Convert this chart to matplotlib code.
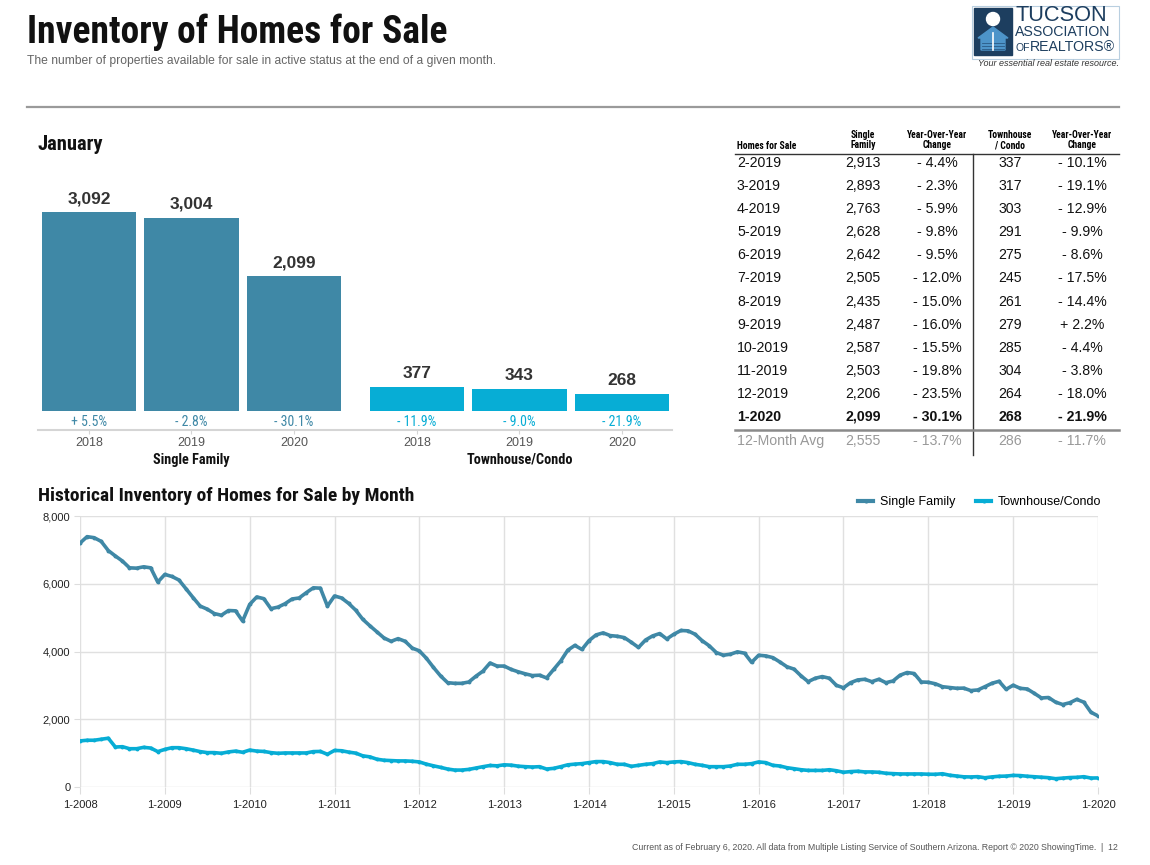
import matplotlib
matplotlib.use("Agg")
import matplotlib.pyplot as plt
from matplotlib import font_manager
from matplotlib.lines import Line2D
from matplotlib.patches import Rectangle, Circle, Polygon
from matplotlib.ticker import FuncFormatter


# ---- data ----
bar_groups = ["Single Family", "Townhouse/Condo"]
bar_years = ["2018", "2019", "2020"]
sf_january = [3092, 3004, 2099]
th_january = [377, 343, 268]
sf_january_change = ["+ 5.5%", "- 2.8%", "- 30.1%"]
th_january_change = ["- 11.9%", "- 9.0%", "- 21.9%"]

table_months = ["2-2019", "3-2019", "4-2019", "5-2019", "6-2019", "7-2019",
                "8-2019", "9-2019", "10-2019", "11-2019", "12-2019", "1-2020"]
table_sf = ["2,913", "2,893", "2,763", "2,628", "2,642", "2,505",
            "2,435", "2,487", "2,587", "2,503", "2,206", "2,099"]
table_sf_change = ["- 4.4%", "- 2.3%", "- 5.9%", "- 9.8%", "- 9.5%", "- 12.0%",
                   "- 15.0%", "- 16.0%", "- 15.5%", "- 19.8%", "- 23.5%", "- 30.1%"]
table_th = ["337", "317", "303", "291", "275", "245",
            "261", "279", "285", "304", "264", "268"]
table_th_change = ["- 10.1%", "- 19.1%", "- 12.9%", "- 9.9%", "- 8.6%", "- 17.5%",
                   "- 14.4%", "+ 2.2%", "- 4.4%", "- 3.8%", "- 18.0%", "- 21.9%"]
table_avg = ["12-Month Avg", "2,555", "- 13.7%", "286", "- 11.7%"]

# monthly inventory 1-2008 .. 1-2020
sf_monthly = [
    7200, 7390, 7360, 7250, 6980, 6820, 6670, 6470, 6460, 6500, 6470, 6050,  # 2008
    6275, 6215, 6110, 5850, 5590, 5340, 5250, 5120, 5070, 5210, 5200, 4900,  # 2009
    5390, 5610, 5560, 5265, 5310, 5410, 5550, 5580, 5735, 5880, 5870, 5340,  # 2010
    5640, 5580, 5420, 5220, 4950, 4760, 4580, 4400, 4300, 4380, 4300, 4100,  # 2011
    4020, 3800, 3530, 3280, 3080, 3060, 3060, 3100, 3270, 3420, 3660, 3570,  # 2012
    3570, 3470, 3400, 3340, 3290, 3300, 3220, 3470, 3720, 4040, 4180, 4060,  # 2013
    4320, 4490, 4550, 4470, 4450, 4410, 4270, 4120, 4340, 4460, 4530, 4370,  # 2014
    4510, 4620, 4610, 4510, 4320, 4170, 3970, 3890, 3920, 3990, 3950, 3680,  # 2015
    3890, 3870, 3820, 3690, 3550, 3480, 3280, 3110, 3210, 3260, 3210, 3000,  # 2016
    2930, 3080, 3160, 3180, 3110, 3180, 3080, 3130, 3300, 3380, 3350, 3100,  # 2017
    3092, 3047, 2961, 2936, 2914, 2919, 2847, 2865, 2961, 3062, 3121, 2884,  # 2018
    3004, 2913, 2893, 2763, 2628, 2642, 2505, 2435, 2487, 2587, 2503, 2206,  # 2019
    2099,                                                                    # 2020
]
th_monthly = [
    1360, 1380, 1380, 1410, 1440, 1180, 1190, 1130, 1130, 1170, 1150, 1045,  # 2008
    1110, 1160, 1160, 1130, 1090, 1045, 1015, 1015, 995, 1035, 1060, 1025,   # 2009
    1090, 1060, 1050, 1015, 995, 1005, 1005, 1005, 1005, 1045, 1050, 965,    # 2010
    1080, 1070, 1030, 1000, 920, 890, 820, 790, 780, 770, 770, 760,          # 2011
    740, 675, 625, 580, 530, 500, 500, 520, 560, 600, 635, 625,              # 2012
    655, 645, 615, 600, 590, 600, 530, 550, 600, 655, 675, 690,              # 2013
    720, 750, 750, 720, 670, 670, 610, 640, 670, 690, 740, 720,              # 2014
    740, 750, 720, 670, 640, 600, 600, 600, 620, 670, 670, 690,              # 2015
    740, 720, 640, 620, 570, 540, 510, 490, 490, 490, 510, 480,              # 2016
    435, 455, 465, 445, 445, 435, 405, 395, 385, 385, 385, 385,              # 2017
    377, 375, 392, 348, 323, 301, 297, 305, 273, 298, 316, 322,              # 2018
    343, 337, 317, 303, 291, 275, 245, 261, 279, 285, 304, 264,              # 2019
    268,                                                                     # 2020
]
history_ticks = ["1-2008", "1-2009", "1-2010", "1-2011", "1-2012", "1-2013", "1-2014",
                 "1-2015", "1-2016", "1-2017", "1-2018", "1-2019", "1-2020"]

# ---- style ----
SF_COLOR = "#3F88A6"
TH_COLOR = "#07ADD5"
NAVY = "#1D3E5F"
W, H = 1150, 865

names = {f.name for f in font_manager.fontManager.ttflist}
if "Roboto Condensed" in names:
    NARROW = dict(family="Roboto Condensed")
elif "Liberation Sans Narrow" in names:
    NARROW = dict(family="Liberation Sans Narrow")
else:
    NARROW = dict(family="DejaVu Sans", stretch="condensed")
plt.rcParams["font.family"] = ["Liberation Sans", "DejaVu Sans"]


def fx(x):
    return x / W


def fy(y):
    return 1 - y / H


fig = plt.figure(figsize=(W / 100, H / 100), dpi=100)

# ---- header ----
fig.text(fx(27), fy(32), "Inventory of Homes for Sale", fontsize=27, fontweight="bold",
         color="#111111", va="center", ha="left", **NARROW)
fig.text(fx(27), fy(61), "The number of properties available for sale in active status "
         "at the end of a given month.", fontsize=8.75, color="#666666", va="center")
fig.add_artist(Line2D([fx(27), fx(1119)], [fy(107), fy(107)], color="#9a9a9a", lw=1.6))

# logo (pixel coordinates inside its own axes)
ax_logo = fig.add_axes([fx(969), fy(70), 152 / W, 66 / H])
ax_logo.set_xlim(0, 152)
ax_logo.set_ylim(66, 0)
ax_logo.axis("off")
ax_logo.add_patch(Rectangle((2.5, 1.5), 147.5, 53, fill=False, ec="#b9cfe0", lw=0.8))
ax_logo.add_patch(Rectangle((5, 3.5), 38, 47, color=NAVY))
ax_logo.add_patch(Circle((24, 15), 6.5, color="white"))
ax_logo.add_patch(Polygon([(9, 34), (24, 23), (39, 34), (36, 34), (36, 46), (12, 46), (12, 34)],
                          color="#4D94C9"))
for yy in (39, 42, 45):
    ax_logo.plot([13, 35], [yy, yy], color="#2a5a85", lw=0.6)
ax_logo.plot([24, 24], [29, 46], color="white", lw=1.2)
ax_logo.text(46, 11.5, "TUCSON", fontsize=15.7, color=NAVY, va="center", ha="left")
ax_logo.text(46, 28, "ASSOCIATION", fontsize=10.2, color=NAVY, va="center", ha="left")
ax_logo.text(46, 44, "OF", fontsize=7.5, color=NAVY, va="center", ha="left")
ax_logo.text(61, 43, "REALTORS®", fontsize=10.2, color=NAVY, va="center", ha="left")
ax_logo.text(150, 60, "Your essential real estate resource.", fontsize=6.5, style="italic",
             color="#333333", va="center", ha="right")

# ---- January bar chart ----
fig.text(fx(38), fy(145), "January", fontsize=14.8, fontweight="bold", color="#111111",
         va="center", **NARROW)

ax_bar = fig.add_axes([fx(38), fy(411), (672 - 38) / W, (411 - 180) / H])
positions = [0, 1, 2, 3.2, 4.2, 5.2]
values = sf_january + th_january
colors = [SF_COLOR] * 3 + [TH_COLOR] * 3
changes = sf_january_change + th_january_change
ax_bar.bar(positions, values, width=0.92, color=colors)
ax_bar.set_xlim(-0.4976, 5.688)
ax_bar.set_ylim(0, 3587)
for p, v, c, ch in zip(positions, values, colors, changes):
    ax_bar.annotate(f"{v:,}", (p, v), xytext=(0, 4), textcoords="offset points",
                    ha="center", va="bottom", fontsize=12.5, fontweight="bold", color="#333333")
    ax_bar.text(p, -0.047, ch, transform=ax_bar.get_xaxis_transform(), ha="center",
                va="center", fontsize=10, color=c, **NARROW)
for s in ("top", "right", "left"):
    ax_bar.spines[s].set_visible(False)
ax_bar.spines["bottom"].set_position(("outward", 13.7))
ax_bar.spines["bottom"].set_color("#d5d5d5")
ax_bar.spines["bottom"].set_linewidth(1.5)
ax_bar.set_yticks([])
ax_bar.set_xticks(positions)
ax_bar.set_xticklabels(bar_years * 2, fontsize=9, color="#555555")
ax_bar.tick_params(axis="x", length=3, color="#d5d5d5", pad=2)
ax_bar.text(1, -0.21, bar_groups[0], transform=ax_bar.get_xaxis_transform(), ha="center",
            va="center", fontsize=10.3, fontweight="bold", color="#111111", **NARROW)
ax_bar.text(4.2, -0.21, bar_groups[1], transform=ax_bar.get_xaxis_transform(), ha="center",
            va="center", fontsize=10.3, fontweight="bold", color="#111111", **NARROW)

# ---- table ----
col_x = [737, 863, 937, 1010, 1082]
fig.text(fx(col_x[0]), fy(146), "Homes for Sale", fontsize=6.9, fontweight="bold",
         ha="left", va="center", **NARROW)
for cx, head in zip(col_x[1:], ["Single\nFamily", "Year-Over-Year\nChange",
                                "Townhouse\n/ Condo", "Year-Over-Year\nChange"]):
    fig.text(fx(cx), fy(140), head, fontsize=6.9, fontweight="bold", ha="center",
             va="center", linespacing=1.05, **NARROW)
fig.add_artist(Line2D([fx(735), fx(1119)], [fy(153.5), fy(153.5)], color="#333333", lw=1))
fig.add_artist(Line2D([fx(973), fx(973)], [fy(153.5), fy(455)], color="#333333", lw=1))
fig.add_artist(Line2D([fx(735), fx(1119)], [fy(430), fy(430)], color="#8a8a8a", lw=1.8))

row_step = 23.09
for i, row in enumerate(zip(table_months, table_sf, table_sf_change, table_th, table_th_change)):
    y = fy(163 + i * row_step)
    weight = "bold" if i == len(table_months) - 1 else "normal"
    fig.text(fx(col_x[0]), y, row[0], fontsize=10.2, ha="left", va="center",
             fontweight=weight, color="#111111")
    for cx, cell in zip(col_x[1:], row[1:]):
        fig.text(fx(cx), y, cell, fontsize=10.2, ha="center", va="center",
                 fontweight=weight, color="#111111")
fig.text(fx(col_x[0]), fy(441), table_avg[0], fontsize=10.2, ha="left", va="center",
         color="#999999")
for cx, cell in zip(col_x[1:], table_avg[1:]):
    fig.text(fx(cx), fy(441), cell, fontsize=10.2, ha="center", va="center", color="#999999")

# ---- historical line chart ----
fig.text(fx(38), fy(496), "Historical Inventory of Homes for Sale by Month", fontsize=14,
         fontweight="bold", color="#111111", va="center", **NARROW)

ax = fig.add_axes([fx(80), fy(787), (1098 - 80) / W, (787 - 516) / H])
months = list(range(len(sf_monthly)))
ax.plot(months, sf_monthly, color=SF_COLOR, lw=2.6, marker="o", markersize=1.8,
        label="Single Family", solid_joinstyle="round")
ax.plot(months, th_monthly, color=TH_COLOR, lw=2.6, marker="o", markersize=1.8,
        label="Townhouse/Condo", solid_joinstyle="round")
ax.set_xlim(0, len(sf_monthly) - 1)
ax.set_ylim(0, 8000)
ax.set_xticks(range(0, len(sf_monthly), 12))
ax.set_xticklabels(history_ticks, fontsize=8, color="#222222")
ax.set_yticks(range(0, 8001, 2000))
ax.yaxis.set_major_formatter(FuncFormatter(lambda v, p: f"{int(v):,}"))
ax.tick_params(axis="y", labelsize=8, labelcolor="#222222", length=4, color="#dddddd", pad=3)
ax.tick_params(axis="x", length=5, color="#dddddd", pad=4)
ax.grid(True, color="#e0e0e0", lw=1)
ax.set_axisbelow(True)
for s in ax.spines.values():
    s.set_visible(False)

leg = fig.legend(handles=[Line2D([], [], color=SF_COLOR, lw=3, marker="o", markersize=2),
                          Line2D([], [], color=TH_COLOR, lw=3, marker="o", markersize=2)],
                 labels=["Single Family", "Townhouse/Condo"], loc="center right",
                 bbox_to_anchor=(fx(1112), fy(502)), ncol=2, frameon=False, fontsize=9,
                 handlelength=1.2, handletextpad=0.5, columnspacing=1.7)

# ---- footer ----
fig.text(fx(1118), fy(848), "Current as of February 6, 2020. All data from Multiple Listing "
         "Service of Southern Arizona. Report © 2020 ShowingTime.  |  12", fontsize=6.3,
         color="#555555", ha="right", va="center")

fig.savefig("out.png", dpi=100)
